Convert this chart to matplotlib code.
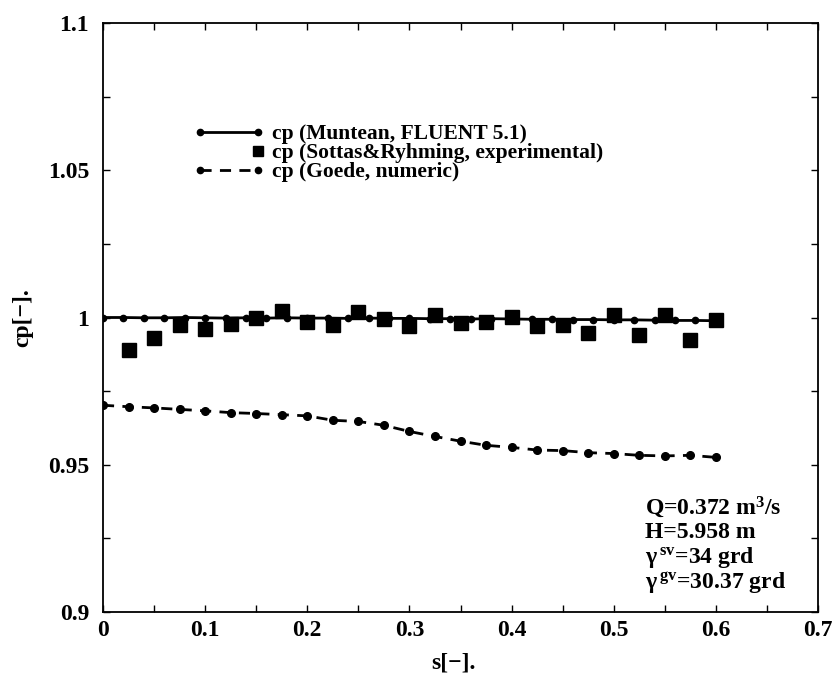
import matplotlib
matplotlib.use("Agg")
import matplotlib.pyplot as plt
from matplotlib.lines import Line2D
from matplotlib.legend_handler import HandlerLine2D
from matplotlib.ticker import MultipleLocator, FuncFormatter

plt.rcParams['font.family'] = ['Liberation Serif', 'DejaVu Serif']
plt.rcParams['font.weight'] = 'bold'
plt.rcParams['mathtext.fontset'] = 'custom'
plt.rcParams['mathtext.rm'] = 'Liberation Serif:bold'
plt.rcParams['mathtext.it'] = 'Liberation Serif:bold'
plt.rcParams['mathtext.bf'] = 'Liberation Serif:bold'

# Muntean, FLUENT 5.1
s_muntean = [0.00, 0.02, 0.04, 0.06, 0.08, 0.10, 0.12, 0.14, 0.16, 0.18,
             0.20, 0.22, 0.24, 0.26, 0.28, 0.30, 0.32, 0.34, 0.36, 0.38,
             0.40, 0.42, 0.44, 0.46, 0.48, 0.50, 0.52, 0.54, 0.56, 0.58, 0.60]
cp_muntean = [1.0000, 1.0000, 0.9999, 0.9999, 1.0000, 0.9999, 0.9998, 0.9999,
              0.9998, 0.9999, 0.9998, 0.9998, 0.9997, 0.9998, 0.9997, 0.9997,
              0.9996, 0.9996, 0.9995, 0.9996, 0.9995, 0.9994, 0.9994, 0.9993,
              0.9993, 0.9992, 0.9992, 0.9991, 0.9990, 0.9990, 0.9989]

# Sottas & Ryhming, experimental
s_exp = [0.025, 0.050, 0.075, 0.100, 0.125, 0.150, 0.175, 0.200, 0.225, 0.250,
         0.275, 0.300, 0.325, 0.350, 0.375, 0.400, 0.425, 0.450, 0.475, 0.500,
         0.525, 0.550, 0.575, 0.600]
cp_exp = [0.9890, 0.9932, 0.9974, 0.9960, 0.9977, 1.0000, 1.0023, 0.9986,
          0.9974, 1.0020, 0.9994, 0.9970, 1.0008, 0.9980, 0.9986, 1.0003,
          0.9970, 0.9974, 0.9946, 1.0008, 0.9940, 1.0007, 0.9925, 0.9990]

# Goede, numeric
s_goede = [0.000, 0.025, 0.050, 0.075, 0.100, 0.125, 0.150, 0.175, 0.200,
           0.225, 0.250, 0.275, 0.300, 0.325, 0.350, 0.375, 0.400, 0.425,
           0.450, 0.475, 0.500, 0.525, 0.550, 0.575, 0.600]
cp_goede = [0.9702, 0.9697, 0.9693, 0.9688, 0.9683, 0.9677, 0.9674, 0.9670,
            0.9666, 0.9651, 0.9647, 0.9634, 0.9613, 0.9596, 0.9580, 0.9566,
            0.9559, 0.9550, 0.9548, 0.9541, 0.9538, 0.9532, 0.9530, 0.9532,
            0.9525]

labels = ["cp (Muntean, FLUENT 5.1)",
          "cp (Sottas&Ryhming, experimental)",
          "cp (Goede, numeric)"]

info_lines = [r"Q=0.372 m$^3$/s",
              "H=5.958 m",
              r"$\gamma^{\,sv}$=34 grd",
              r"$\gamma^{\,gv}$=30.37 grd"]


class EndMarkerHandler(HandlerLine2D):
    """Legend entry showing a single marker at the right end of the sample."""
    def create_artists(self, legend, orig_handle, xdescent, ydescent,
                       width, height, fontsize, trans):
        artists = super().create_artists(legend, orig_handle, xdescent,
                                         ydescent, width, height, fontsize,
                                         trans)
        for a in artists:
            a.set_markevery([1])
        return artists


fig = plt.figure(figsize=(8.34, 6.82), dpi=100)
ax = fig.add_axes([103 / 834, 1 - 612 / 682, (818 - 103) / 834, (612 - 23) / 682])

ax.plot(s_muntean, cp_muntean, color='black', lw=2.0, marker='o', ms=4.5)
ax.plot(s_exp, cp_exp, ls='none', color='black', marker='s', ms=9.5)
ax.plot(s_goede, cp_goede, color='black', lw=2.0, ls=(0, (4, 3)),
        marker='o', ms=5.5)

ax.set_xlim(0, 0.7)
ax.set_ylim(0.9, 1.1)
ax.xaxis.set_major_locator(MultipleLocator(0.1))
ax.xaxis.set_minor_locator(MultipleLocator(0.05))
ax.yaxis.set_major_locator(MultipleLocator(0.05))
ax.yaxis.set_minor_locator(MultipleLocator(0.025))
fmt = FuncFormatter(lambda v, p: f"{v:g}")
ax.xaxis.set_major_formatter(fmt)
ax.yaxis.set_major_formatter(fmt)
ax.tick_params(which='both', direction='in', top=True, right=True,
               length=5, width=1.0, labelsize=17)
ax.tick_params(axis='y', which='major', pad=10)
ax.tick_params(axis='x', which='major', pad=6)
for sp in ax.spines.values():
    sp.set_linewidth(1.3)

ax.set_xlabel("s[\u2212].", fontsize=17, fontweight='bold')
ax.xaxis.set_label_coords(0.49, -0.087)
ax.xaxis.label.set_verticalalignment('center')
ax.set_ylabel("cp[\u2212].", fontsize=17, fontweight='bold')
ax.yaxis.set_label_coords(-0.112, 0.5)
ax.yaxis.label.set_verticalalignment('center')

handles = [
    Line2D([], [], color='black', lw=2.0, marker='o', ms=4.5),
    Line2D([], [], color='black', ls='none', marker='s', ms=7),
    Line2D([], [], color='black', lw=2.0, ls=(0, (4, 3)), marker='o', ms=4.5),
]
ax.legend(handles, labels, loc='center left', bbox_to_anchor=(0.127, 0.779),
          frameon=False, numpoints=2, handlelength=3.3, handletextpad=0.35,
          labelspacing=-0.05, borderpad=0, borderaxespad=0, handleheight=0.5,
          handler_map={handles[1]: EndMarkerHandler()},
          prop={'family': 'Liberation Serif', 'weight': 'bold', 'size': 15.5})

y0 = 507
for i, line in enumerate(info_lines):
    ax.text(645 / 834, 1 - (y0 + i * 25.5) / 682, line, transform=fig.transFigure,
            ha='left', va='center', fontsize=17, fontweight='bold')

fig.savefig("out.png", dpi=100)
